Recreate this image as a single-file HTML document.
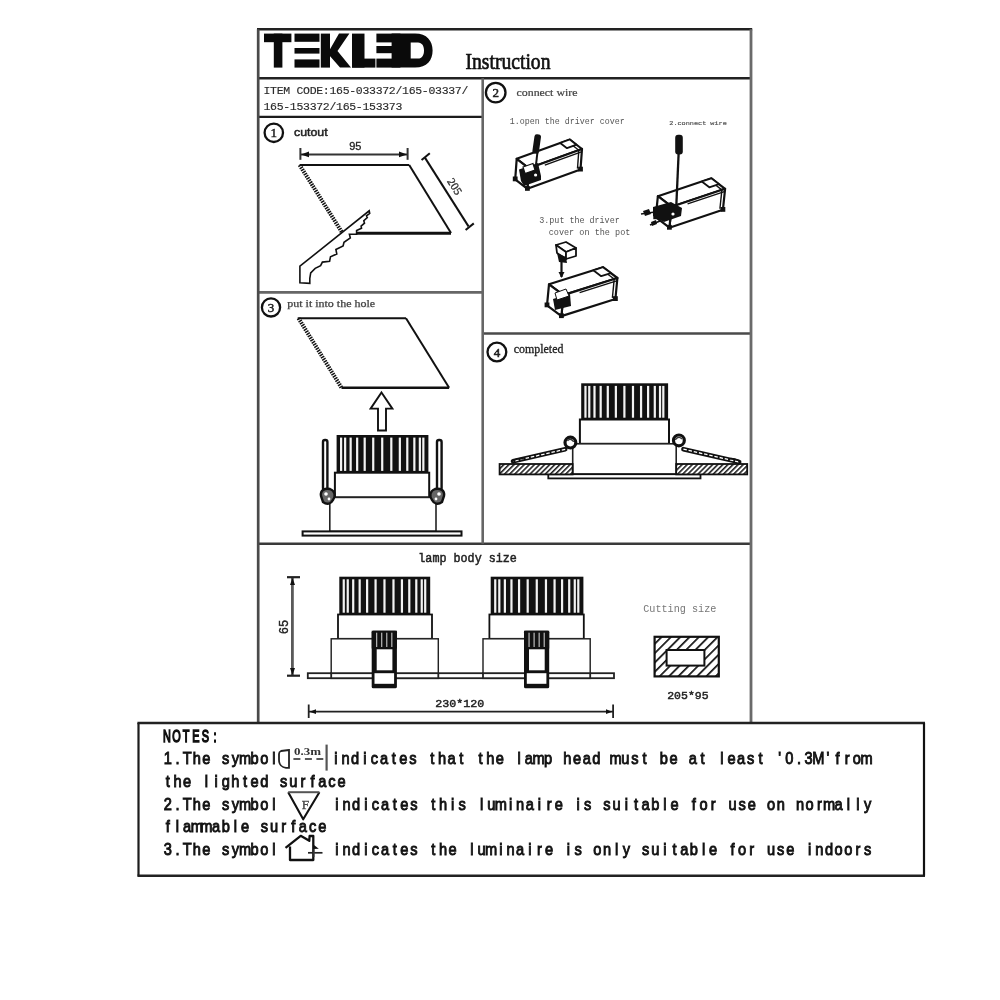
<!DOCTYPE html>
<html><head><meta charset="utf-8">
<style>
html,body{margin:0;padding:0;background:#fff;width:1000px;height:1000px;overflow:hidden}
svg{position:absolute;left:0;top:0;display:block;filter:grayscale(1)}
text{font-family:"Liberation Mono",monospace}
.sr{font-family:"Liberation Serif",serif}
.ss{font-family:"Liberation Sans",sans-serif}
.mo{font-family:"Liberation Mono",monospace}
</style></head>
<body>
<svg width="1000" height="1000" viewBox="0 0 1000 1000">
<g fill="none">
<line x1="257" y1="29.3" x2="752.2" y2="29.3" stroke="#222" stroke-width="2.4"/>
<line x1="258" y1="78.3" x2="751" y2="78.3" stroke="#222" stroke-width="2.4"/>
<line x1="258" y1="116.8" x2="482.6" y2="116.8" stroke="#1c1c1c" stroke-width="2.3"/>
<line x1="258" y1="292.4" x2="482.6" y2="292.4" stroke="#666" stroke-width="2.6"/>
<line x1="482.6" y1="333.5" x2="751" y2="333.5" stroke="#4a4a4a" stroke-width="2.6"/>
<line x1="258" y1="543.7" x2="751" y2="543.7" stroke="#3a3a3a" stroke-width="2.5"/>
<line x1="258.2" y1="29.3" x2="258.2" y2="723" stroke="#4a4a4a" stroke-width="2.7"/>
<line x1="751" y1="29.3" x2="751" y2="723" stroke="#6a6a6a" stroke-width="2.8"/>
<line x1="482.7" y1="78.3" x2="482.7" y2="543.7" stroke="#666" stroke-width="2.6"/>
<line x1="137.4" y1="723" x2="925" y2="723" stroke="#222" stroke-width="2.4"/>
<line x1="137.4" y1="875.7" x2="925" y2="875.7" stroke="#222" stroke-width="2.4"/>
<line x1="138.5" y1="723" x2="138.5" y2="875.7" stroke="#1c1c1c" stroke-width="2.2"/>
<line x1="924" y1="723" x2="924" y2="875.7" stroke="#111" stroke-width="2.2"/>
</g>
<g fill="#0a0a0a">
<rect x="264" y="33.6" width="27.4" height="8.6"/>
<rect x="273.8" y="33.6" width="8.6" height="34"/>
<rect x="294.5" y="33.6" width="25" height="8.2"/>
<rect x="294.5" y="48" width="25" height="5.6"/>
<rect x="294.5" y="59.4" width="25" height="8.2"/>
<rect x="320.8" y="33.6" width="9.2" height="34"/>
<polygon points="329,51 339,33.6 349.4,33.6 337.5,51 351,67.6 340,67.6 329,55"/>
<rect x="352" y="33.6" width="12.5" height="34"/>
<rect x="352" y="58.6" width="23.4" height="9"/>
<rect x="376.4" y="33.6" width="24" height="8.8"/>
<rect x="376.4" y="46" width="24" height="7.2"/>
<rect x="376.4" y="58.6" width="24" height="9"/>
<path d="M391.6 33.6 H415 C427 33.6 432.6 41 432.6 50.6 C432.6 60.5 427 67.6 415 67.6 H391.6 Z M410.7 42.4 V58.6 H418 C422 58.6 424 55 424 50.5 C424 46 422 42.4 418 42.4 Z" fill-rule="evenodd"/>
</g>
<text class="sr" x="465.5" y="68.6" font-size="23.5" textLength="85" lengthAdjust="spacingAndGlyphs" fill="#111" stroke="#111" stroke-width="0.7">Instruction</text>
<text class="mo" x="266.90 273.50 280.10 286.70 293.30 299.90 306.50 313.10 319.70 326.30 332.90 339.50 346.10 352.70 359.30 365.90 372.50 379.10 385.70 392.30 398.90 405.50 412.10 418.70 425.30 431.90 438.50 445.10 451.70 458.30 464.90" y="94.3" font-size="11.5" text-anchor="middle" fill="#2a2a2a" stroke="#2a2a2a" stroke-width="0.15">ITEM CODE:165-033372/165-03337/</text>
<text class="mo" x="266.90 273.50 280.10 286.70 293.30 299.90 306.50 313.10 319.70 326.30 332.90 339.50 346.10 352.70 359.30 365.90 372.50 379.10 385.70 392.30 398.90" y="110" font-size="11.5" text-anchor="middle" fill="#2a2a2a" stroke="#2a2a2a" stroke-width="0.15">165-153372/165-153373</text>
<circle cx="273.8" cy="132.8" r="9.2" fill="none" stroke="#111" stroke-width="2.3"/>
<text class="sr" x="273.8" y="137.3" font-size="13" text-anchor="middle" fill="#222" stroke="#222" stroke-width="0.5">1</text>
<text class="ss" x="294" y="135.6" font-size="11" textLength="33.6" lengthAdjust="spacingAndGlyphs" fill="#222" stroke="#222" stroke-width="0.45">cutout</text>
<g stroke="#333" fill="none">
<line x1="300.4" y1="154.4" x2="407.6" y2="154.4" stroke-width="2"/>
<line x1="300.4" y1="148" x2="300.4" y2="159.8" stroke-width="2"/>
<line x1="407.6" y1="148" x2="407.6" y2="159.8" stroke-width="2"/>
</g>
<polygon points="301,154.4 309,151.6 309,157.2" fill="#111"/>
<polygon points="407,154.4 399,151.6 399,157.2" fill="#111"/>
<text class="ss" x="355.3" y="150.3" font-size="11" text-anchor="middle" fill="#222" stroke="#222" stroke-width="0.3">95</text>
<g fill="none" stroke="#111">
<line x1="299.6" y1="165" x2="409.2" y2="165" stroke-width="2.2"/>
<line x1="409.2" y1="165" x2="451" y2="233" stroke-width="2"/>
<line x1="356" y1="233.2" x2="451" y2="233.2" stroke-width="3"/>
<line x1="299.6" y1="165" x2="342.4" y2="233" stroke-width="4" stroke-dasharray="1.5 1.0" stroke="#111"/>
</g>
<g fill="none" stroke="#111" stroke-width="2">
<line x1="424.9" y1="157.6" x2="468.5" y2="226.4"/>
<line x1="421.6" y1="160" x2="429.8" y2="153.2"/>
<line x1="465.6" y1="230" x2="473.8" y2="223.4"/>
</g>
<text class="sr" x="0" y="0" font-size="11.5" text-anchor="middle" fill="#333" stroke="#333" stroke-width="0.35" transform="translate(451.5,188.5) rotate(57.5)">205</text>
<polygon fill="#fff" stroke="#111" stroke-width="1.6" stroke-linejoin="miter" points="299.9,282.8 299.9,266.2 369.2,210.8 369.7,213.5 366.5,215.8 367.3,217.5 363.8,220.7 364.5,223.2 361.1,226.1 361.5,228.2 356.6,230.6 356.6,234.2 349.4,234.2 350.3,237.8 344,242.3 343.1,245.9 335.9,249.5 336.8,254 330.5,256.7 329.6,261.2 322.4,262.1 320.6,265.7 315.2,268.4 310.7,272.9 309.8,278.3 309.8,283.3"/>
<circle cx="495.7" cy="92.6" r="9.8" fill="none" stroke="#111" stroke-width="2.3"/>
<text class="sr" x="495.7" y="97.1" font-size="13" text-anchor="middle" fill="#222" stroke="#222" stroke-width="0.5">2</text>
<text class="sr" x="516.5" y="95.6" font-size="9.8" textLength="61" lengthAdjust="spacingAndGlyphs" fill="#444" stroke="#444" stroke-width="0.2">connect wire</text>
<text class="mo" x="509.8" y="123.8" font-size="8.4" textLength="115" lengthAdjust="spacingAndGlyphs" fill="#555">1.open the driver cover</text>
<text class="mo" x="669.3" y="124.9" font-size="6.2" textLength="57.5" lengthAdjust="spacingAndGlyphs" fill="#555" stroke="#555" stroke-width="0.2">2.connect wire</text>
<text class="mo" x="539.3" y="222.7" font-size="8.4" textLength="80.4" lengthAdjust="spacingAndGlyphs" fill="#555">3.put the driver</text>
<text class="mo" x="548.7" y="234.8" font-size="8.4" textLength="81.7" lengthAdjust="spacingAndGlyphs" fill="#555">cover on the pot</text>
<g fill="#fff" stroke="#111" stroke-width="2.2" stroke-linejoin="round">
<polygon points="516.7,158.8 569.8,139.5 582.0,149.0 528.9,168.3"/>
<polygon points="528.9,168.3 582.0,149.0 580.5,169.5 527.4,188.8"/>
<polygon points="516.7,158.8 528.9,168.3 527.4,188.8 515.2,179.3"/>
<line x1="544.8" y1="165.1" x2="582.0" y2="151.6" stroke-width="1.5"/>
<line x1="570.3" y1="143.5" x2="578.8" y2="150.2" stroke-width="1.4"/>
<line x1="578.8" y1="150.2" x2="577.5" y2="168.6" stroke-width="1.4"/>
<polygon points="560.2,143.0 569.8,139.5 576.5,144.7 567.0,148.2" stroke-width="1.8"/>
</g>
<rect x="512.8" y="176.5" width="4.8" height="4.8" fill="#111"/>
<rect x="578.1" y="166.7" width="4.8" height="4.8" fill="#111"/>
<rect x="525.0" y="186.0" width="4.8" height="4.8" fill="#111"/>
<polygon points="519,169.6 538,163 541,176 541,180 524,186 521,181" fill="#111"/>
<polygon points="523,167 533,163.5 535,170 525,173.5" fill="#fff" stroke="#111" stroke-width="1.2"/>
<circle cx="535.6" cy="175" r="1.6" fill="#fff"/>
<rect x="533.4" y="134.3" width="6.6" height="19.5" rx="2.5" fill="#111" transform="rotate(8 536.7 144)"/>
<line x1="537.5" y1="152" x2="535.6" y2="167.8" stroke="#111" stroke-width="2"/>
<g fill="#fff" stroke="#111" stroke-width="2.2" stroke-linejoin="round">
<polygon points="657.9,196.2 711.4,178.3 725.1,188.8 671.6,206.7"/>
<polygon points="671.6,206.7 725.1,188.8 722.9,209.8 669.4,227.7"/>
<polygon points="657.9,196.2 671.6,206.7 669.4,227.7 655.7,217.2"/>
<line x1="687.6" y1="203.9" x2="725.1" y2="191.4" stroke-width="1.5"/>
<line x1="712.3" y1="182.5" x2="721.9" y2="189.9" stroke-width="1.4"/>
<line x1="721.9" y1="189.9" x2="719.9" y2="208.8" stroke-width="1.4"/>
<polygon points="701.8,181.5 711.4,178.3 718.9,184.1 709.3,187.3" stroke-width="1.8"/>
</g>
<rect x="653.3" y="214.4" width="4.8" height="4.8" fill="#111"/>
<rect x="720.5" y="207.0" width="4.8" height="4.8" fill="#111"/>
<rect x="667.0" y="224.9" width="4.8" height="4.8" fill="#111"/>
<rect x="675.2" y="134.8" width="7.6" height="19.8" rx="3" fill="#111"/>
<line x1="678.6" y1="154" x2="676.2" y2="208" stroke="#111" stroke-width="2.3"/>
<polygon points="653,207 671,202 682,208 681,216 664,222 653,216" fill="#111"/>
<circle cx="673" cy="214" r="1.6" fill="#fff"/>
<polygon points="643,211 649,209 651,214 645,216" fill="#111"/><polygon points="651,222 656,220 657,224 652,226" fill="#111"/>
<line x1="641" y1="214" x2="655" y2="212" stroke="#111" stroke-width="1.6"/><line x1="650" y1="225" x2="660" y2="221" stroke="#111" stroke-width="1.6"/>
<g fill="#fff" stroke="#111" stroke-width="2.2" stroke-linejoin="round">
<polygon points="549.0,284.3 603.0,267.2 617.4,278.0 563.4,295.1"/>
<polygon points="563.4,295.1 617.4,278.0 615.4,299.0 561.4,316.1"/>
<polygon points="549.0,284.3 563.4,295.1 561.4,316.1 547.0,305.3"/>
<line x1="579.6" y1="292.6" x2="617.4" y2="280.6" stroke-width="1.5"/>
<line x1="604.1" y1="271.5" x2="614.2" y2="279.0" stroke-width="1.4"/>
<line x1="614.2" y1="279.0" x2="612.4" y2="297.9" stroke-width="1.4"/>
<polygon points="593.3,270.3 603.0,267.2 610.9,273.1 601.2,276.2" stroke-width="1.8"/>
</g>
<rect x="544.6" y="302.5" width="4.8" height="4.8" fill="#111"/>
<rect x="613.0" y="296.2" width="4.8" height="4.8" fill="#111"/>
<rect x="559.0" y="313.3" width="4.8" height="4.8" fill="#111"/>
<polygon points="553,299 570,294 571,306 555,310" fill="#111"/>
<polygon points="555,293 566,289 569,296 557,300" fill="#fff" stroke="#111" stroke-width="1"/>
<g fill="#fff" stroke="#111" stroke-width="1.8" stroke-linejoin="round">
<polygon points="556,245 566,242 576,248 566,252"/>
<polygon points="556,245 566,252 566,259 557,253"/>
<polygon points="566,252 576,248 576,256 566,259"/>
</g>
<polygon points="557,253 566,257 567,263 559,262" fill="#111"/>
<line x1="561.5" y1="262" x2="561.5" y2="277" stroke="#111" stroke-width="2.2"/>
<polygon points="558.5,272 564.5,272 561.5,278" fill="#111"/>
<circle cx="271" cy="307.4" r="9.1" fill="none" stroke="#111" stroke-width="2.3"/>
<text class="sr" x="271" y="311.9" font-size="13" text-anchor="middle" fill="#222" stroke="#222" stroke-width="0.5">3</text>
<text class="sr" x="287.3" y="307.4" font-size="9.5" textLength="87.8" lengthAdjust="spacingAndGlyphs" fill="#444" stroke="#444" stroke-width="0.25">put it into the hole</text>
<g fill="none" stroke="#111">
<line x1="297.7" y1="318.2" x2="406" y2="318.2" stroke-width="2"/>
<line x1="406" y1="318.2" x2="449.1" y2="387.7" stroke-width="2"/>
<line x1="341.5" y1="387.7" x2="449.1" y2="387.7" stroke-width="2.4"/>
<line x1="298.5" y1="318.2" x2="341.5" y2="387.7" stroke-width="4" stroke-dasharray="1.5 1.0" stroke="#111"/>
</g>
<polygon points="381.5,392.5 392.4,408.6 386,408.6 386,430.5 378,430.5 378,408.6 370.6,408.6" fill="#fff" stroke="#111" stroke-width="1.9" stroke-linejoin="miter"/>
<rect x="336.6" y="435" width="91.80" height="37.70" fill="#111"/>
<rect x="340.00" y="437.60" width="2.2" height="33.30" fill="#fff" opacity="0.95"/>
<rect x="344.04" y="437.60" width="2.2" height="33.30" fill="#fff" opacity="0.95"/>
<rect x="349.55" y="437.60" width="2.2" height="33.30" fill="#fff" opacity="0.95"/>
<rect x="356.06" y="437.60" width="2.2" height="33.30" fill="#fff" opacity="0.95"/>
<rect x="363.59" y="437.60" width="2.2" height="33.30" fill="#fff" opacity="0.95"/>
<rect x="372.13" y="437.60" width="2.2" height="33.30" fill="#fff" opacity="0.95"/>
<rect x="381.12" y="437.60" width="2.2" height="33.30" fill="#fff" opacity="0.95"/>
<rect x="390.21" y="437.60" width="2.2" height="33.30" fill="#fff" opacity="0.95"/>
<rect x="398.75" y="437.60" width="2.2" height="33.30" fill="#fff" opacity="0.95"/>
<rect x="406.19" y="437.60" width="2.2" height="33.30" fill="#fff" opacity="0.95"/>
<rect x="413.25" y="437.60" width="2.2" height="33.30" fill="#fff" opacity="0.95"/>
<rect x="418.76" y="437.60" width="2.2" height="33.30" fill="#fff" opacity="0.95"/>
<rect x="422.25" y="437.60" width="2.2" height="33.30" fill="#fff" opacity="0.95"/>
<rect x="334.9" y="472.7" width="94.30000000000001" height="24.69999999999999" fill="#fff" stroke="#111" stroke-width="2"/>
<rect x="329.8" y="497.4" width="106.19999999999999" height="34.0" fill="#fff" stroke="#222" stroke-width="1.6"/>
<rect x="302.6" y="531.4" width="158.9" height="4.2" fill="#fff" stroke="#111" stroke-width="2"/>
<rect x="323" y="440" width="4.4" height="50" rx="2" fill="#fff" stroke="#111" stroke-width="2.4"/>
<rect x="437" y="440" width="4.6" height="50" rx="2" fill="#fff" stroke="#111" stroke-width="2.4"/>
<path d="M321,496 C320,490 325,488 330,489 C335,491 336,496 333,500 C331,504 327,505 323,502 Z" fill="#666" stroke="#111" stroke-width="2.4"/>
<path d="M444,496 C445,490 440,488 435,489 C430,491 429,496 432,500 C434,504 438,505 442,502 Z" fill="#666" stroke="#111" stroke-width="2.4"/>
<circle cx="326" cy="494" r="1.8" fill="#fff"/><circle cx="329" cy="499" r="1.4" fill="#fff"/><circle cx="439" cy="494" r="1.8" fill="#fff"/><circle cx="436" cy="499" r="1.4" fill="#fff"/>
<circle cx="496.9" cy="352" r="9.4" fill="none" stroke="#111" stroke-width="2.3"/>
<text class="sr" x="496.9" y="356.5" font-size="13" text-anchor="middle" fill="#222" stroke="#222" stroke-width="0.5">4</text>
<text class="sr" x="513.8" y="353.3" font-size="11.5" textLength="49.6" lengthAdjust="spacingAndGlyphs" fill="#222" stroke="#222" stroke-width="0.3">completed</text>
<rect x="581.2" y="383.3" width="86.90" height="36.20" fill="#111"/>
<rect x="584.36" y="385.90" width="2.2" height="31.80" fill="#fff" opacity="0.95"/>
<rect x="588.18" y="385.90" width="2.2" height="31.80" fill="#fff" opacity="0.95"/>
<rect x="593.40" y="385.90" width="2.2" height="31.80" fill="#fff" opacity="0.95"/>
<rect x="599.57" y="385.90" width="2.2" height="31.80" fill="#fff" opacity="0.95"/>
<rect x="606.69" y="385.90" width="2.2" height="31.80" fill="#fff" opacity="0.95"/>
<rect x="614.77" y="385.90" width="2.2" height="31.80" fill="#fff" opacity="0.95"/>
<rect x="623.29" y="385.90" width="2.2" height="31.80" fill="#fff" opacity="0.95"/>
<rect x="631.89" y="385.90" width="2.2" height="31.80" fill="#fff" opacity="0.95"/>
<rect x="639.97" y="385.90" width="2.2" height="31.80" fill="#fff" opacity="0.95"/>
<rect x="647.01" y="385.90" width="2.2" height="31.80" fill="#fff" opacity="0.95"/>
<rect x="653.70" y="385.90" width="2.2" height="31.80" fill="#fff" opacity="0.95"/>
<rect x="658.92" y="385.90" width="2.2" height="31.80" fill="#fff" opacity="0.95"/>
<rect x="662.22" y="385.90" width="2.2" height="31.80" fill="#fff" opacity="0.95"/>
<rect x="579.9" y="419.5" width="89.10000000000002" height="24.30000000000001" fill="#fff" stroke="#111" stroke-width="2"/>
<rect x="572.7" y="443.8" width="103.5" height="30.399999999999977" fill="#fff" stroke="#222" stroke-width="1.6"/>
<rect x="548.3" y="474.2" width="152.2" height="4.2" fill="#fff" stroke="#111" stroke-width="1.8"/>
<defs><pattern id="hat" patternUnits="userSpaceOnUse" width="3.6" height="3.6" patternTransform="rotate(45)"><rect width="3.6" height="3.6" fill="#fff"/><rect width="1.6" height="3.6" fill="#222"/></pattern>
<pattern id="hat2" patternUnits="userSpaceOnUse" width="6.6" height="6.6" patternTransform="rotate(45)"><rect width="6.6" height="6.6" fill="#fff"/><rect width="1.7" height="6.6" fill="#111"/></pattern></defs>
<rect x="499.6" y="464" width="73" height="10.4" fill="url(#hat)" stroke="#111" stroke-width="1.8"/>
<rect x="676.2" y="464" width="71" height="10.4" fill="url(#hat)" stroke="#111" stroke-width="1.8"/>
<circle cx="570.4" cy="442.6" r="5.4" fill="#fff" stroke="#111" stroke-width="3.2"/>
<circle cx="678.9" cy="440.4" r="5.4" fill="#fff" stroke="#111" stroke-width="3.2"/>
<path d="M567.5,441 C569,438.5 573,439 573.5,442" fill="none" stroke="#333" stroke-width="1.4"/>
<path d="M681.8,439 C680,436.5 676,437 675.5,440" fill="none" stroke="#333" stroke-width="1.4"/>
<line x1="565.2" y1="449.3" x2="513" y2="461.3" stroke="#111" stroke-width="4.6" stroke-linecap="round"/>
<line x1="565.2" y1="449.3" x2="513" y2="461.3" stroke="#fff" stroke-width="1.3" stroke-dasharray="3.5 1.8"/>
<line x1="683.4" y1="449.2" x2="739.2" y2="462" stroke="#111" stroke-width="4.6" stroke-linecap="round"/>
<line x1="683.4" y1="449.2" x2="739.2" y2="462" stroke="#fff" stroke-width="1.3" stroke-dasharray="3.5 1.8"/>
<path d="M512,462 C514,459 520,458 524,459" fill="none" stroke="#111" stroke-width="1.6"/>
<path d="M740,462 C738,459 732,458 728,459" fill="none" stroke="#111" stroke-width="1.6"/>
<text class="mo" x="418.3" y="561.5" font-size="12.5" textLength="98.6" lengthAdjust="spacingAndGlyphs" fill="#222" stroke="#222" stroke-width="0.5">lamp body size</text>
<g stroke="#222" stroke-width="1.8" fill="none">
<line x1="292.4" y1="577.2" x2="292.4" y2="675.7" stroke="#5a5a5a" stroke-width="2.8"/>
<line x1="287" y1="577.2" x2="300" y2="577.2" stroke-width="2.2"/>
<line x1="287" y1="675.7" x2="300" y2="675.7" stroke-width="2.2"/>
<line x1="308.7" y1="704.5" x2="308.7" y2="718"/>
<line x1="613.1" y1="704.5" x2="613.1" y2="718"/>
<line x1="308.7" y1="711.7" x2="613.1" y2="711.7"/>
</g>
<polygon points="292.5,578 290,585 295,585" fill="#111"/><polygon points="292.5,675 290,668 295,668" fill="#111"/>
<polygon points="309.5,711.7 316,709.3 316,714.1" fill="#111"/><polygon points="612.3,711.7 606,709.3 606,714.1" fill="#111"/>
<text class="mo" x="0" y="0" font-size="12" text-anchor="middle" fill="#222" stroke="#222" stroke-width="0.4" transform="translate(288.2,627) rotate(-90)">65</text>
<text class="mo" x="435.2" y="707.2" font-size="11.5" textLength="49" lengthAdjust="spacingAndGlyphs" fill="#222" stroke="#222" stroke-width="0.45">230*120</text>
<rect x="307.8" y="673.2" width="306.2" height="5" fill="#fff" stroke="#222" stroke-width="1.8"/>
<rect x="339.3" y="576.7" width="90.90" height="37.80" fill="#111"/>
<rect x="342.65" y="579.30" width="2.2" height="33.40" fill="#fff" opacity="0.95"/>
<rect x="346.65" y="579.30" width="2.2" height="33.40" fill="#fff" opacity="0.95"/>
<rect x="352.11" y="579.30" width="2.2" height="33.40" fill="#fff" opacity="0.95"/>
<rect x="358.56" y="579.30" width="2.2" height="33.40" fill="#fff" opacity="0.95"/>
<rect x="366.02" y="579.30" width="2.2" height="33.40" fill="#fff" opacity="0.95"/>
<rect x="374.47" y="579.30" width="2.2" height="33.40" fill="#fff" opacity="0.95"/>
<rect x="383.38" y="579.30" width="2.2" height="33.40" fill="#fff" opacity="0.95"/>
<rect x="392.38" y="579.30" width="2.2" height="33.40" fill="#fff" opacity="0.95"/>
<rect x="400.83" y="579.30" width="2.2" height="33.40" fill="#fff" opacity="0.95"/>
<rect x="408.19" y="579.30" width="2.2" height="33.40" fill="#fff" opacity="0.95"/>
<rect x="415.19" y="579.30" width="2.2" height="33.40" fill="#fff" opacity="0.95"/>
<rect x="420.65" y="579.30" width="2.2" height="33.40" fill="#fff" opacity="0.95"/>
<rect x="424.10" y="579.30" width="2.2" height="33.40" fill="#fff" opacity="0.95"/>
<rect x="338" y="614.5" width="94" height="24.299999999999955" fill="#fff" stroke="#111" stroke-width="1.8"/>
<rect x="331.2" y="638.8" width="107.10000000000002" height="34.80000000000007" fill="#fff" stroke="#222" stroke-width="1.4400000000000002"/>
<rect x="331.2" y="673.2" width="107.10000000000002" height="5" fill="#fff" stroke="#222" stroke-width="1.8"/>
<rect x="371.7" y="630.7" width="25.2" height="57.6" rx="1.5" fill="#111"/>
<rect x="371.7" y="630.7" width="25.20" height="17.80" fill="#111"/>
<rect x="376.29" y="632.70" width="0.9" height="14.30" fill="#fff" opacity="0.95"/>
<rect x="381.33" y="632.70" width="0.9" height="14.30" fill="#fff" opacity="0.95"/>
<rect x="386.37" y="632.70" width="0.9" height="14.30" fill="#fff" opacity="0.95"/>
<rect x="391.41" y="632.70" width="0.9" height="14.30" fill="#fff" opacity="0.95"/>
<rect x="376.7" y="649.3" width="15.7" height="21" fill="#fff"/>
<rect x="374.5" y="673.2" width="19.6" height="10.6" fill="#fff"/>
<rect x="490.7" y="576.7" width="92.70" height="37.80" fill="#111"/>
<rect x="494.14" y="579.30" width="2.2" height="33.40" fill="#fff" opacity="0.95"/>
<rect x="498.22" y="579.30" width="2.2" height="33.40" fill="#fff" opacity="0.95"/>
<rect x="503.78" y="579.30" width="2.2" height="33.40" fill="#fff" opacity="0.95"/>
<rect x="510.36" y="579.30" width="2.2" height="33.40" fill="#fff" opacity="0.95"/>
<rect x="517.97" y="579.30" width="2.2" height="33.40" fill="#fff" opacity="0.95"/>
<rect x="526.59" y="579.30" width="2.2" height="33.40" fill="#fff" opacity="0.95"/>
<rect x="535.67" y="579.30" width="2.2" height="33.40" fill="#fff" opacity="0.95"/>
<rect x="544.85" y="579.30" width="2.2" height="33.40" fill="#fff" opacity="0.95"/>
<rect x="553.47" y="579.30" width="2.2" height="33.40" fill="#fff" opacity="0.95"/>
<rect x="560.98" y="579.30" width="2.2" height="33.40" fill="#fff" opacity="0.95"/>
<rect x="568.12" y="579.30" width="2.2" height="33.40" fill="#fff" opacity="0.95"/>
<rect x="573.68" y="579.30" width="2.2" height="33.40" fill="#fff" opacity="0.95"/>
<rect x="577.20" y="579.30" width="2.2" height="33.40" fill="#fff" opacity="0.95"/>
<rect x="489.4" y="614.5" width="94.39999999999998" height="24.299999999999955" fill="#fff" stroke="#111" stroke-width="1.8"/>
<rect x="483" y="638.8" width="107.20000000000005" height="34.80000000000007" fill="#fff" stroke="#222" stroke-width="1.4400000000000002"/>
<rect x="483" y="673.2" width="107.20000000000005" height="5" fill="#fff" stroke="#222" stroke-width="1.8"/>
<rect x="524" y="630.7" width="25.2" height="57.6" rx="1.5" fill="#111"/>
<rect x="524" y="630.7" width="25.20" height="17.80" fill="#111"/>
<rect x="528.59" y="632.70" width="0.9" height="14.30" fill="#fff" opacity="0.95"/>
<rect x="533.63" y="632.70" width="0.9" height="14.30" fill="#fff" opacity="0.95"/>
<rect x="538.67" y="632.70" width="0.9" height="14.30" fill="#fff" opacity="0.95"/>
<rect x="543.71" y="632.70" width="0.9" height="14.30" fill="#fff" opacity="0.95"/>
<rect x="529" y="649.3" width="15.7" height="21" fill="#fff"/>
<rect x="526.8" y="673.2" width="19.6" height="10.6" fill="#fff"/>
<text class="mo" x="643.2" y="611.6" font-size="10.2" textLength="73.2" lengthAdjust="spacingAndGlyphs" fill="#777">Cutting size</text>
<rect x="654.6" y="636.8" width="64.2" height="39.6" fill="url(#hat2)" stroke="#111" stroke-width="2.2"/>
<rect x="666.6" y="650" width="37.8" height="15.6" fill="#fff" stroke="#111" stroke-width="2"/>
<text class="mo" x="667.2" y="698.6" font-size="11.5" textLength="41.4" lengthAdjust="spacingAndGlyphs" fill="#222" stroke="#222" stroke-width="0.45">205*95</text>
<g fill="none" stroke="#222">
<path d="M289,750 L281,751 C279.5,751.5 279,752.5 279,754 L279,760 C279,764.5 282,767.5 286,767.8 L289,767.8 Z" stroke-width="1.8"/>
<line x1="293.4" y1="759" x2="323.3" y2="759" stroke-width="1.7" stroke-dasharray="7 4.5"/>
<line x1="326.6" y1="744.6" x2="326.6" y2="770.6" stroke-width="2.2" stroke="#555"/>
</g>
<text class="sr" x="294" y="754.5" font-size="10" textLength="27" lengthAdjust="spacingAndGlyphs" fill="#333" style="font-weight:bold">0.3m</text>
<path d="M288.2,792.2 L303.2,819.3 L319.4,792.2" fill="none" stroke="#111" stroke-width="2.1" stroke-linejoin="round"/>
<line x1="288.2" y1="792.2" x2="319.4" y2="792.2" stroke="#555" stroke-width="2"/>
<text class="sr" x="305.4" y="808.6" font-size="13.5" text-anchor="middle" fill="#444" stroke="#444" stroke-width="0.3">F</text>
<path d="M285.5,847.8 L300.7,835.8 L309.3,840.8 L309.6,836 L313.3,836 L313.3,860 L290,860 L290,846.5" fill="none" stroke="#111" stroke-width="2.3" stroke-linejoin="round"/>
<polygon points="313.3,844.5 318.8,848.8 313.3,849" fill="#111"/>
<line x1="308" y1="852.8" x2="322.5" y2="852.8" stroke="#222" stroke-width="1.7"/><line x1="314" y1="849" x2="314" y2="857" stroke="#444" stroke-width="1"/>
<text class="ss" x="260.66 275.74 290.82 305.90 320.98 336.05" y="742" font-size="17" text-anchor="middle" fill="#161616" transform="scale(0.64,1)" stroke="#111" stroke-width="1.5">NOTES:</text>
<text class="ss" x="195.15 206.37 217.59 228.81 240.03 251.25 262.47 273.69 284.91 296.13 307.35 318.58" y="764.5" font-size="17" text-anchor="middle" fill="#161616" transform="scale(0.86,1)" stroke="#111" stroke-width="0.95">1.The symbol</text>
<text class="ss" x="390.49 401.72 412.94 424.16 435.38 446.60 457.82 469.04 480.26 491.48 502.70 513.92 525.15 536.37 547.59 558.81 570.03 581.25 592.47 603.69 614.91 626.13 637.35 648.58 659.80 671.02 682.24 693.46 704.68 715.90 727.12 738.34 749.56 760.78 772.01 783.23 794.45 805.67 816.89 828.11 839.33 850.55 861.77 872.99 884.22 895.44 906.66 917.88 929.10 940.32 951.54 962.76 973.98 985.20 996.42 1007.65" y="764.5" font-size="17" text-anchor="middle" fill="#161616" transform="scale(0.86,1)" stroke="#111" stroke-width="0.95">indicates that the lamp head must be at least '0.3M'from</text>
<text class="ss" x="195.15 206.37 217.59 228.81 240.03 251.25 262.47 273.69 284.91 296.13 307.35 318.58 329.80 341.02 352.24 363.46 374.68 385.90 397.12" y="787" font-size="17" text-anchor="middle" fill="#161616" transform="scale(0.86,1)" stroke="#111" stroke-width="0.95">the lighted surface</text>
<text class="ss" x="195.15 206.37 217.59 228.81 240.03 251.25 262.47 273.69 284.91 296.13 307.35 318.58" y="810" font-size="17" text-anchor="middle" fill="#161616" transform="scale(0.86,1)" stroke="#111" stroke-width="0.95">2.The symbol</text>
<text class="ss" x="391.66 402.88 414.10 425.32 436.54 447.76 458.98 470.20 481.42 492.65 503.87 515.09 526.31 537.53 548.75 559.97 571.19 582.41 593.63 604.85 616.08 627.30 638.52 649.74 660.96 672.18 683.40 694.62 705.84 717.06 728.28 739.51 750.73 761.95 773.17 784.39 795.61 806.83 818.05 829.27 840.49 851.72 862.94 874.16 885.38 896.60 907.82 919.04 930.26 941.48 952.70 963.92 975.15 986.37 997.59 1008.81" y="810" font-size="17" text-anchor="middle" fill="#161616" transform="scale(0.86,1)" stroke="#111" stroke-width="0.95">indicates this luminaire is suitable for use on normally</text>
<text class="ss" x="195.15 206.37 217.59 228.81 240.03 251.25 262.47 273.69 284.91 296.13 307.35 318.58 329.80 341.02 352.24 363.46 374.68" y="832" font-size="17" text-anchor="middle" fill="#161616" transform="scale(0.86,1)" stroke="#111" stroke-width="0.95">flammable surface</text>
<text class="ss" x="195.15 206.37 217.59 228.81 240.03 251.25 262.47 273.69 284.91 296.13 307.35 318.58" y="855" font-size="17" text-anchor="middle" fill="#161616" transform="scale(0.86,1)" stroke="#111" stroke-width="0.95">3.The symbol</text>
<text class="ss" x="391.66 402.88 414.10 425.32 436.54 447.76 458.98 470.20 481.42 492.65 503.87 515.09 526.31 537.53 548.75 559.97 571.19 582.41 593.63 604.85 616.08 627.30 638.52 649.74 660.96 672.18 683.40 694.62 705.84 717.06 728.28 739.51 750.73 761.95 773.17 784.39 795.61 806.83 818.05 829.27 840.49 851.72 862.94 874.16 885.38 896.60 907.82 919.04 930.26 941.48 952.70 963.92 975.15 986.37 997.59 1008.81" y="855" font-size="17" text-anchor="middle" fill="#161616" transform="scale(0.86,1)" stroke="#111" stroke-width="0.95">indicates the luminaire is only suitable for use indoors</text>
</svg>
</body></html>
